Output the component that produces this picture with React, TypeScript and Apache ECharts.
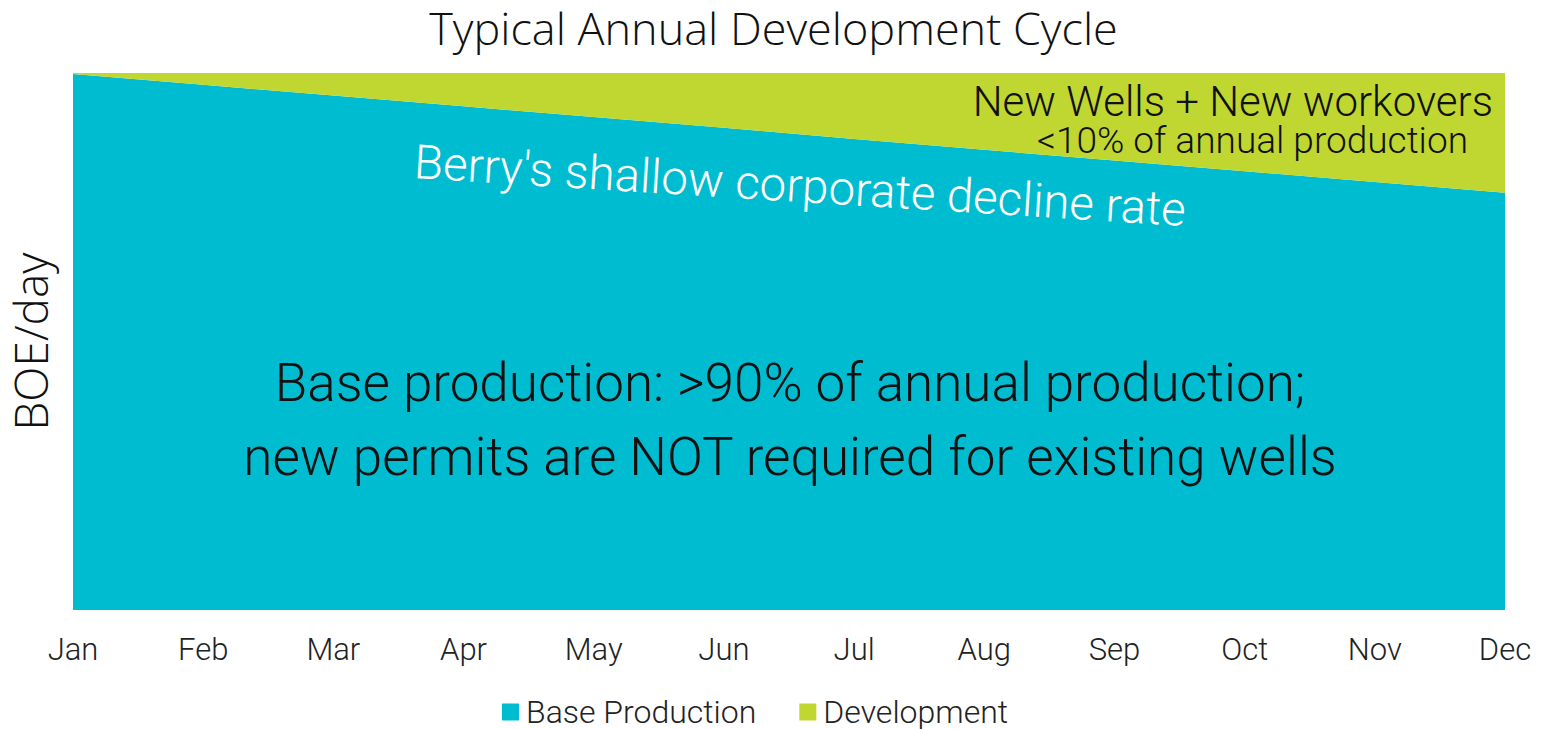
import React, { useEffect, useRef } from "react";
import * as echarts from "echarts";

const months = ["Jan", "Feb", "Mar", "Apr", "May", "Jun", "Jul", "Aug", "Sep", "Oct", "Nov", "Dec"];
const baseProduction = [99.8, 97.8, 95.8, 93.8, 91.8, 89.8, 87.7, 85.7, 83.7, 81.7, 79.7, 77.7];
const development = [0.2, 2.2, 4.2, 6.2, 8.2, 10.2, 12.3, 14.3, 16.3, 18.3, 20.3, 22.3];

const TEAL = "#00BCD0";
const GREEN = "#BFD730";
const FONT = "Roboto";

export default function App() {
  const ref = useRef<HTMLDivElement>(null);
  useEffect(() => {
    if (!ref.current) return;
    const chart = echarts.init(ref.current, null, { renderer: "svg" });
    chart.setOption({
      animation: false,
      title: {
        text: "Typical Annual Development Cycle",
        left: "center",
        top: 0,
        textStyle: { fontFamily: "Open Sans", fontWeight: 300, fontSize: 45, color: "#111" },
      },
      legend: {
        top: 691,
        left: 497,
        icon: "rect",
        itemWidth: 17,
        itemHeight: 17,
        itemGap: 43,
        textStyle: { fontFamily: FONT, fontWeight: 300, fontSize: 32, color: "#222", padding: [0, 0, 0, 2] },
        data: ["Base Production", "Development"],
      },
      grid: { left: 73, right: 42, top: 73, bottom: 119, outerBoundsMode: "none", containLabel: false },
      xAxis: {
        type: "category",
        data: months,
        boundaryGap: false,
        axisLine: { show: false },
        axisTick: { show: false },
        splitLine: { show: false },
        axisLabel: { fontFamily: FONT, fontWeight: 300, fontSize: 31, color: "#222", margin: 24 },
      },
      yAxis: {
        type: "value",
        min: 0,
        max: 100,
        show: true,
        name: "BOE/day",
        nameLocation: "middle",
        nameGap: 20,
        nameTextStyle: { fontFamily: "Open Sans", fontWeight: 300, fontSize: 46, color: "#111" },
        axisLine: { show: false },
        axisTick: { show: false },
        axisLabel: { show: false },
        splitLine: { show: false },
      },
      series: [
        {
          name: "Base Production",
          type: "line",
          stack: "total",
          data: baseProduction,
          symbol: "none",
          lineStyle: { width: 0 },
          itemStyle: { color: TEAL },
          areaStyle: { color: TEAL, opacity: 1 },
        },
        {
          name: "Development",
          type: "line",
          stack: "total",
          data: development,
          symbol: "none",
          lineStyle: { width: 0 },
          itemStyle: { color: GREEN },
          areaStyle: { color: GREEN, opacity: 1 },
        },
      ],
      graphic: [
        {
          type: "text",
          z: 100,
          x: 1493,
          y: 101,
          style: {
            text: "New Wells + New workovers",
            fontFamily: FONT,
            fontWeight: 300,
            fontSize: 42,
            fill: "#111",
            align: "right",
            verticalAlign: "middle",
          },
        },
        {
          type: "text",
          z: 100,
          x: 1468,
          y: 140,
          style: {
            text: "<10% of annual production",
            fontFamily: FONT,
            fontWeight: 300,
            fontSize: 37,
            fill: "#111",
            align: "right",
            verticalAlign: "middle",
          },
        },
        {
          type: "text",
          z: 100,
          x: 800,
          y: 186,
          rotation: -0.062,
          style: {
            text: "Berry's shallow corporate decline rate",
            fontFamily: FONT,
            fontWeight: 300,
            fontSize: 47.5,
            fill: "#fff",
            align: "center",
            verticalAlign: "middle",
          },
        },
        {
          type: "text",
          z: 100,
          x: 790,
          y: 420,
          style: {
            text: "Base production: >90% of annual production;\nnew permits are NOT required for existing wells",
            fontFamily: FONT,
            fontWeight: 300,
            fontSize: 53,
            lineHeight: 74,
            fill: "#111",
            align: "center",
            verticalAlign: "middle",
          },
        },
      ],
    });
    return () => chart.dispose();
  }, []);
  return <div ref={ref} style={{ position: "absolute", left: 0, top: 0, width: 1547, height: 729 }} />;
}
